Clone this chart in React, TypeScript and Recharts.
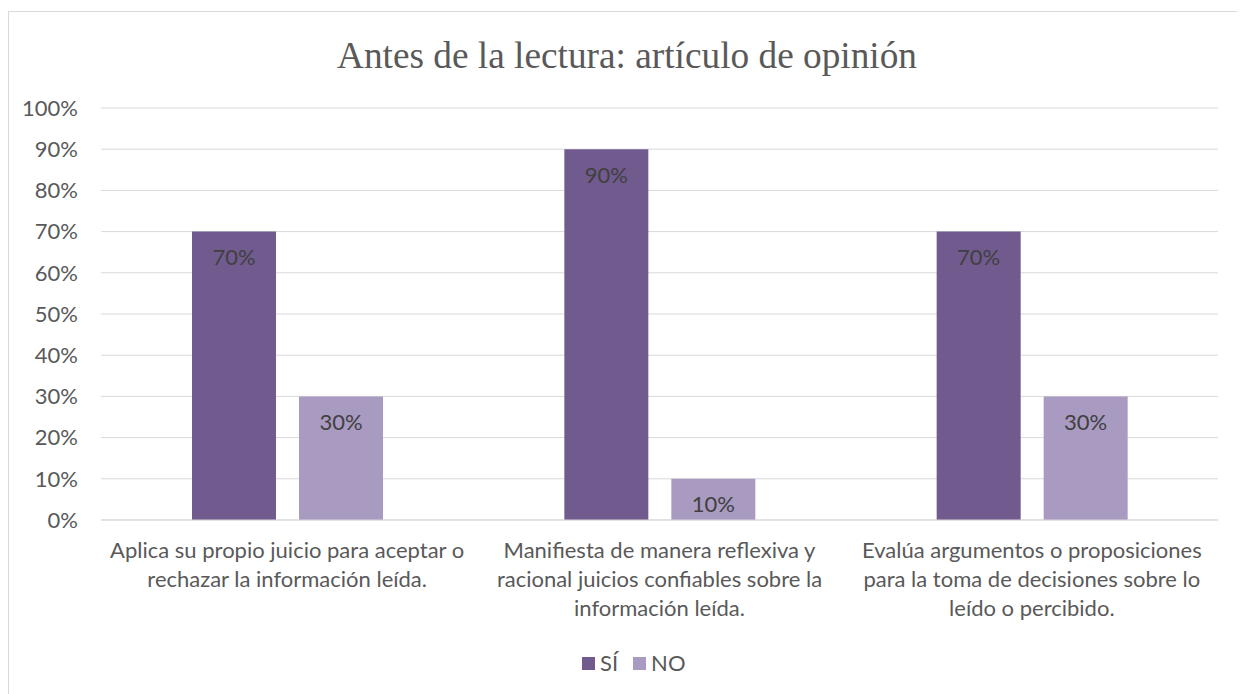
import { BarChart, Bar, XAxis, YAxis, CartesianGrid, LabelList } from 'recharts';

const title = 'Antes de la lectura: artículo de opinión';

// category axis labels, already broken into the lines shown in the reference
const categoryLines = [
  ['Aplica su propio juicio para aceptar o', 'rechazar la información leída.'],
  ['Manifiesta de manera reflexiva y', 'racional juicios confiables sobre la', 'información leída.'],
  ['Evalúa argumentos o proposiciones', 'para la toma de decisiones sobre lo', 'leído o percibido.'],
];
const categories = categoryLines.map((lines) => lines.join(' '));

const siValues = [0.7, 0.9, 0.7];
const noValues = [0.3, 0.1, 0.3];

const yTicks = [0, 0.1, 0.2, 0.3, 0.4, 0.5, 0.6, 0.7, 0.8, 0.9, 1];

const series = [
  { key: 'si', name: 'SÍ', color: '#705A8E' },
  { key: 'no', name: 'NO', color: '#A89AC0' },
];

const data = categories.map((name, i) => ({
  name,
  si: siValues[i],
  no: noValues[i],
}));

const FONT = 'Lato, "Open Sans", sans-serif';
const TEXT = '#595959';
const FS = 22;
const pct = (v: number) => `${Math.round(v * 100)}%`;

const CategoryTick = ({ x, y, index }: any) => {
  const lines = categoryLines[index] || [];
  return (
    <text x={x} y={y} textAnchor="middle" fill={TEXT} fontSize={FS} fontFamily={FONT}>
      {lines.map((line, i) => (
        <tspan key={i} x={x} dy={i === 0 ? 30 : 29}>
          {line}
        </tspan>
      ))}
    </text>
  );
};

export default function App() {
  return (
    <div
      style={{
        position: 'relative',
        width: 1237,
        height: 683,
        marginTop: 3,
        borderTop: '1px solid #d9d9d9',
        borderLeft: '1px solid #d9d9d9',
        boxSizing: 'border-box',
        background: '#fff',
      }}
    >
      <div
        style={{
          position: 'absolute',
          top: 25,
          left: 0,
          width: '100%',
          textAlign: 'center',
          fontFamily: '"Liberation Serif", "Times New Roman", serif',
          fontSize: 37.3,
          lineHeight: '37px',
          color: TEXT,
        }}
      >
        {title}
      </div>

      <div style={{ position: 'absolute', top: 0, left: 0 }}>
        <BarChart
          width={1235}
          height={680}
          data={data}
          margin={{ top: 96, right: 26, left: 0, bottom: 52 }}
          barSize={84}
          barGap={23}
        >
          <CartesianGrid vertical={false} stroke="#d9d9d9" />
          <XAxis
            dataKey="name"
            height={120}
            axisLine={{ stroke: '#d9d9d9' }}
            tickLine={false}
            interval={0}
            tick={<CategoryTick />}
          />
          <YAxis
            width={92}
            domain={[0, 1]}
            ticks={yTicks}
            tickFormatter={pct}
            axisLine={false}
            tickLine={false}
            tickSize={6}
            tickMargin={17}
            tick={{ fill: TEXT, fontSize: FS, fontFamily: FONT }}
          />
          {series.map((s) => (
            <Bar key={s.key} dataKey={s.key} name={s.name} fill={s.color} isAnimationActive={false}>
              <LabelList
                dataKey={s.key}
                position="insideTop"
                offset={18}
                formatter={(v: any) => pct(Number(v))}
                fill="#404040"
                fontSize={FS}
                fontFamily={FONT}
              />
            </Bar>
          ))}
        </BarChart>
      </div>

      {/* legend */}
      <div
        style={{
          position: 'absolute',
          top: 638,
          left: 573,
          display: 'flex',
          alignItems: 'center',
          fontFamily: FONT,
          fontSize: FS,
          color: TEXT,
          lineHeight: '26px',
        }}
      >
        {series.map((s, i) => (
          <div key={s.key} style={{ display: 'flex', alignItems: 'center', marginRight: i === 0 ? 15 : 0 }}>
            <span style={{ width: 13, height: 13, background: s.color, display: 'inline-block', marginRight: 5 }} />
            <span>{s.name}</span>
          </div>
        ))}
      </div>
    </div>
  );
}
